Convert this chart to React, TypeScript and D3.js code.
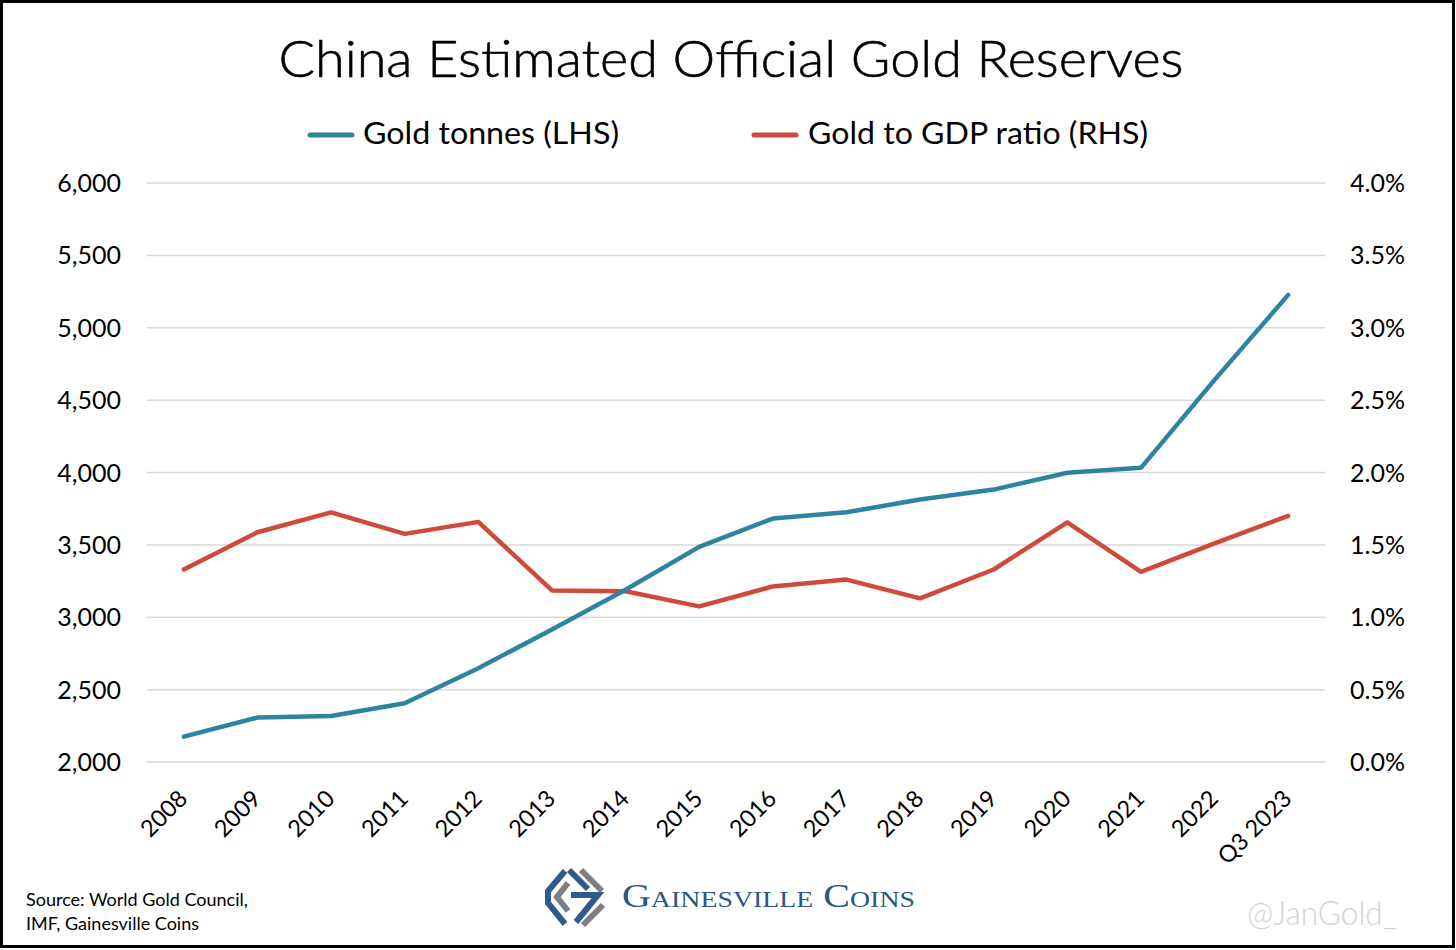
import * as d3 from "d3";
import React from "react";

const categories = [
  "2008", "2009", "2010", "2011", "2012", "2013", "2014", "2015",
  "2016", "2017", "2018", "2019", "2020", "2021", "2022", "Q3 2023",
];
// tonnes, left axis
const goldTonnes = [2175, 2307, 2318, 2406, 2648, 2915, 3190, 3486, 3682, 3725, 3813, 3882, 3998, 4032, 4640, 5227];
// percent of GDP, right axis
const goldToGdp = [1.33, 1.587, 1.725, 1.576, 1.659, 1.185, 1.18, 1.075, 1.213, 1.26, 1.13, 1.33, 1.656, 1.313, 1.51, 1.7];
const leftTicks = [2000, 2500, 3000, 3500, 4000, 4500, 5000, 5500, 6000];
const rightTicks = [0, 0.5, 1, 1.5, 2, 2.5, 3, 3.5, 4];

const W = 1456;
const H = 950;
const FONT = "Lato, 'Noto Sans', sans-serif";
const BLUE = "#2d84a0";
const RED = "#d04a3c";

export default function App() {
  const x = d3.scalePoint<string>().domain(categories).range([147, 1325]).padding(0.5);
  const yL = d3.scaleLinear().domain([2000, 6000]).range([762, 183]);
  const yR = d3.scaleLinear().domain([0, 4]).range([762, 183]);

  const blueLine = d3
    .line<number>()
    .x((_, i) => x(categories[i])!)
    .y((d) => yL(d));
  const redLine = d3
    .line<number>()
    .x((_, i) => x(categories[i])!)
    .y((d) => yR(d));

  return (
    <svg
      width={W}
      height={H}
      style={{ position: "absolute", left: 0, top: 0, background: "#fff" }}
      fontFamily={FONT}
    >
      <rect x={1.5} y={1.5} width={W - 4} height={H - 5} fill="#fff" stroke="#000" strokeWidth={3} />

      <text x={731} y={77} textAnchor="middle" fontSize={52} fontWeight={300} stroke="#000" strokeWidth={0.6} textLength={905} lengthAdjust="spacingAndGlyphs" fill="#000">
        China Estimated Official Gold Reserves
      </text>

      {/* legend */}
      <line x1={310} x2={352} y1={135} y2={135} stroke={BLUE} strokeWidth={5} strokeLinecap="round" />
      <text x={363} y={144} fontSize={30} textLength={256} lengthAdjust="spacingAndGlyphs">Gold tonnes (LHS)</text>
      <line x1={754} x2={796} y1={135} y2={135} stroke={RED} strokeWidth={5} strokeLinecap="round" />
      <text x={808} y={144} fontSize={30} textLength={340} lengthAdjust="spacingAndGlyphs">Gold to GDP ratio (RHS)</text>

      {/* grid + axes */}
      {leftTicks.map((t) => (
        <g key={t}>
          <line x1={147} x2={1325} y1={yL(t)} y2={yL(t)} stroke="#d9d9d9" strokeWidth={1.5} />
          <text x={121} y={yL(t)} dy="0.36em" textAnchor="end" fontSize={25}>
            {d3.format(",")(t)}
          </text>
        </g>
      ))}
      {rightTicks.map((t) => (
        <text key={t} x={1350} y={yR(t)} dy="0.36em" fontSize={25}>
          {t.toFixed(1)}%
        </text>
      ))}
      {categories.map((c) => (
        <text
          key={c}
          transform={`translate(${x(c)! + 5},${800}) rotate(-45)`}
          textAnchor="end"
          fontSize={23.5}
        >
          {c}
        </text>
      ))}

      <path d={redLine(goldToGdp)!} fill="none" stroke={RED} strokeWidth={4.5} strokeLinejoin="round" strokeLinecap="round" />
      <path d={blueLine(goldTonnes)!} fill="none" stroke={BLUE} strokeWidth={4.5} strokeLinejoin="round" strokeLinecap="round" />

      {/* footer */}
      <text x={26} y={906} fontSize={18}>Source: World Gold Council,</text>
      <text x={26} y={930} fontSize={18}>IMF, Gainesville Coins</text>

      <g transform="translate(540,862)" fill="none" strokeWidth={6} strokeLinejoin="miter">
        <polyline points="25,9 8,29 8,41 25,62" stroke="#2f5a8a" />
        <polyline points="28,21 17,35 28,49" stroke="#7d7f84" />
        <polyline points="29,8 48,27" stroke="#2f5a8a" />
        <polyline points="41,8 62,29" stroke="#7d7f84" />
        <polyline points="31,33 58,33 36,60" stroke="#2f5a8a" />
        <polyline points="43,63 63,43" stroke="#7d7f84" />
      </g>
      <text
        x={622}
        y={907}
        fontFamily="'Liberation Serif', 'DejaVu Serif', serif"
        fontSize={33}
        fontVariant="small-caps"
        fill="#2e5684"
        textLength={293}
        lengthAdjust="spacingAndGlyphs"
      >
        Gainesville Coins
      </text>

      <text x={1247} y={925} fontSize={34} fontWeight={300} fill="#d3d3d3" textLength={150} lengthAdjust="spacingAndGlyphs">
        @JanGold_
      </text>
    </svg>
  );
}
